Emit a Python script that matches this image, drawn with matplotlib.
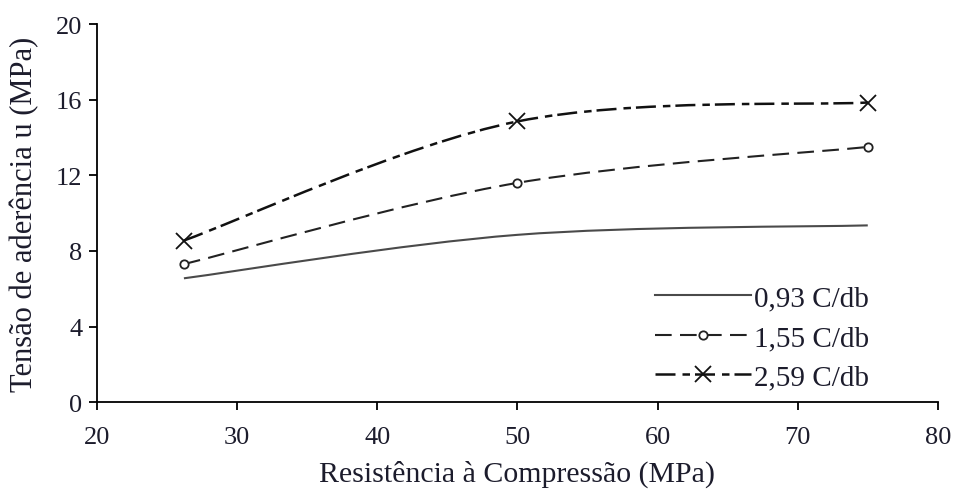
import numpy as np
import matplotlib
matplotlib.use('Agg')
import matplotlib.pyplot as plt
from matplotlib.path import Path
from matplotlib.patches import PathPatch
from matplotlib.lines import Line2D

# data
resistencia = [26.2, 50, 75]
tensao_093 = [6.55, 8.85, 9.35]
tensao_155 = [7.3, 11.6, 13.5]
tensao_259 = [8.55, 14.85, 15.85]
labels = ['0,93 C/db', '1,55 C/db', '2,59 C/db']

plt.rcParams['font.family'] = ['Liberation Serif', 'DejaVu Serif']
txt_color = '#1c1c2c'


def smooth_path(xs, ys):
    # Excel-like smoothed line: Catmull-Rom segments as cubic beziers
    pts = np.column_stack([xs, ys]).astype(float)
    ext = np.vstack([pts[0], pts, pts[-1]])
    verts = [pts[0]]
    codes = [Path.MOVETO]
    for i in range(1, len(ext) - 2):
        p0, p1, p2, p3 = ext[i - 1], ext[i], ext[i + 1], ext[i + 2]
        verts += [p1 + (p2 - p0) / 6.0, p2 - (p3 - p1) / 6.0, p2]
        codes += [Path.CURVE4] * 3
    return Path(verts, codes)


fig = plt.figure(figsize=(9.56, 5.02), dpi=100)
ax = fig.add_axes([0.1015, 0.197, 0.8795, 0.753])

styles = [
    dict(color='#4a4a4a', ls='-', lw=1.5, marker=None, ms=0),
    dict(color='#222222', ls=(0, (8, 4)), lw=1.5, marker='o', ms=6),
    dict(color='#111111', ls=(0, (8, 2.8, 3, 2)), lw=1.8, marker='x', ms=11),
]
series = [tensao_093, tensao_155, tensao_259]

handles = []
for ys, st, lab in zip(series, styles, labels):
    patch = PathPatch(smooth_path(resistencia, ys), fill=False, edgecolor=st['color'],
                      linestyle=st['ls'], linewidth=st['lw'])
    ax.add_patch(patch)
    if st['marker']:
        ax.plot(resistencia, ys, linestyle='none', marker=st['marker'], ms=st['ms'],
                mfc='white' if st['marker'] == 'o' else st['color'], mec=st['color'],
                mew=1.3, zorder=3)
    handles.append(Line2D([], [], color=st['color'], linestyle=st['ls'], lw=st['lw'],
                          marker=st['marker'], ms=st['ms'], mfc='white', mec=st['color'], mew=1.3))

ax.set_xlim(20, 80)
ax.set_ylim(0, 20)
ax.set_xticks(np.arange(20, 81, 10))
ax.set_yticks(np.arange(0, 21, 4))
for s in ['top', 'right']:
    ax.spines[s].set_visible(False)
for s in ['left', 'bottom']:
    ax.spines[s].set_linewidth(1.3)
ax.tick_params(direction='out', length=5.5, width=1.3, labelsize=19, labelcolor=txt_color)
ax.tick_params(axis='x', pad=12)
ax.tick_params(axis='y', pad=5)
ax.set_xlabel('Resistência à Compressão (MPa)', fontsize=21.5, color=txt_color, labelpad=8)
ax.set_ylabel('Tensão de aderência u (MPa)', fontsize=22, color=txt_color, labelpad=12)

leg = ax.legend(handles, labels, loc='center left', bbox_to_anchor=(0.6635, 0.17),
                frameon=False, handlelength=3.3, handletextpad=0.1, numpoints=1,
                fontsize=21, labelspacing=0.45, borderpad=0, borderaxespad=0)
for t in leg.get_texts():
    t.set_color(txt_color)

plt.savefig('out.png', dpi=100)
plt.close()
